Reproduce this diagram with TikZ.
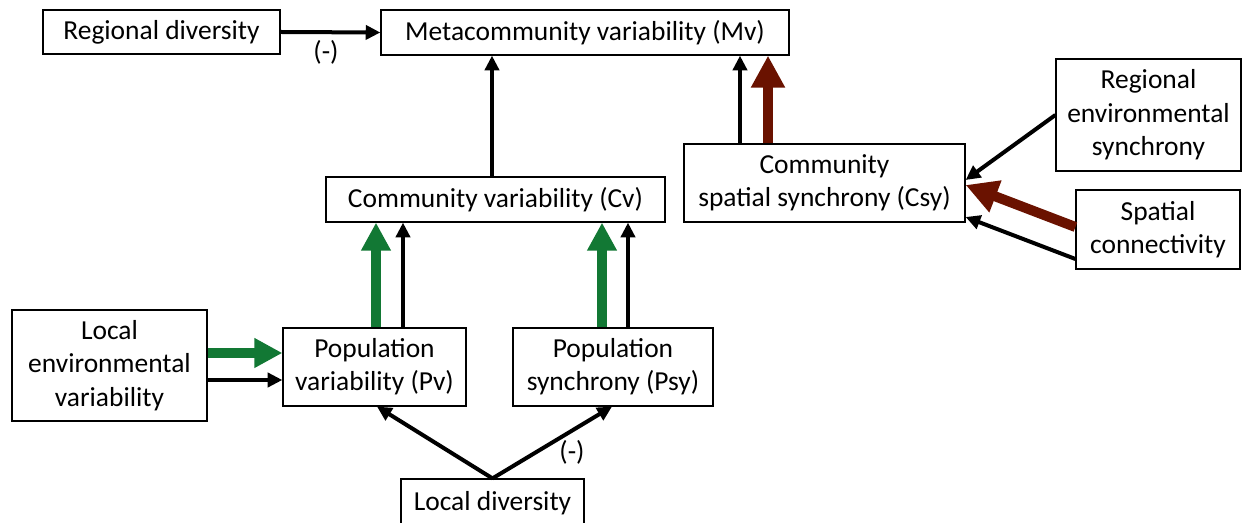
\documentclass[tikz,border=0pt]{standalone}
\usepackage{fontspec}
\setmainfont{Carlito}
\usetikzlibrary{arrows.meta}
\definecolor{arrgreen}{RGB}{18,120,52}
\definecolor{arrred}{RGB}{106,18,0}
\tikzset{
  box/.style={draw=black, line width=0.9pt, fill=white, align=center, inner sep=0pt,
    font=\fontsize{20.6}{25}\selectfont},
  thin/.style={line width=3pt, -{Triangle[length=11pt, width=10.5pt]}},
  thickg/.style={line width=7.5pt, arrgreen, -{Triangle[length=21pt, width=21pt]}},
  thickr/.style={line width=7.5pt, arrred, -{Triangle[length=24pt, width=24pt]}},
  lbl/.style={font=\fontsize{20.6}{24}\selectfont}
}
\begin{document}
\begin{tikzpicture}[x=0.75pt, y=-0.75pt]
\useasboundingbox (0,0) rectangle (1247,523);
\node[box, minimum width=237*0.75pt, minimum height=44*0.75pt] (rd) at (161.5,32) {Regional diversity};
\node[box, minimum width=408*0.75pt, minimum height=45*0.75pt] (mv) at (585,32.5) {Metacommunity variability (Mv)};
\node[box, minimum width=339*0.75pt, minimum height=45*0.75pt] (cv) at (495.5,199.5) {Community variability (Cv)};
\node[box, minimum width=281*0.75pt, minimum height=78*0.75pt] (csy) at (824.5,183) {Community\\spatial synchrony (Csy)};
\node[box, minimum width=185*0.75pt, minimum height=112*0.75pt] (res) at (1148.5,115) {Regional\\environmental\\synchrony};
\node[box, minimum width=164*0.75pt, minimum height=79*0.75pt] (sc) at (1158,229.5) {Spatial\\connectivity};
\node[box, minimum width=195*0.75pt, minimum height=111*0.75pt] (lev) at (109.5,365.5) {Local\\environmental\\variability};
\node[box, minimum width=183*0.75pt, minimum height=78*0.75pt] (pv) at (374.5,367) {Population\\variability (Pv)};
\node[box, minimum width=200*0.75pt, minimum height=78*0.75pt] (psy) at (613,367) {Population\\synchrony (Psy)};
\node[box, minimum width=183*0.75pt, minimum height=60*0.75pt, text depth=0pt] (ld) at (492.5,509) {};
\node[lbl, anchor=base] (ldt) at (492.5,511) {Local diversity};

% arrows
\draw[thin] (rd.east) -- (mv.west);
\node[lbl] (m1) at (326,52) {(-)};
\draw[thin] (cv.north -| 492,0) -- (mv.south -| 492,0);
\draw[thin] (csy.north -| 740,0) -- (mv.south -| 740,0);
\draw[thickr] (csy.north -| 768,0) -- (mv.south -| 768,0);
\draw[thickg] (pv.north -| 376,0) -- (cv.south -| 376,0);
\draw[thin] (pv.north -| 403,0) -- (cv.south -| 403,0);
\draw[thickg] (psy.north -| 602,0) -- (cv.south -| 602,0);
\draw[thin] (psy.north -| 628,0) -- (cv.south -| 628,0);
\draw[thickg] (lev.east |- 0,353) -- (pv.west |- 0,353);
\draw[thin] (lev.east |- 0,380) -- (pv.west |- 0,380);
\draw[thin] (ld.north) -- (pv.south -| 377,0);
\draw[thin] (ld.north) -- (psy.south -| 612,0);
\node[lbl] (m2) at (572,452) {(-)};
\draw[thin] (res.west) -- (csy.east |- 0,180);
\draw[thickr] (sc.west |- 0,227) -- (csy.east |- 0,185);
\draw[thin] (sc.west |- 0,259) -- (csy.east |- 0,217);
\end{tikzpicture}
\end{document}
